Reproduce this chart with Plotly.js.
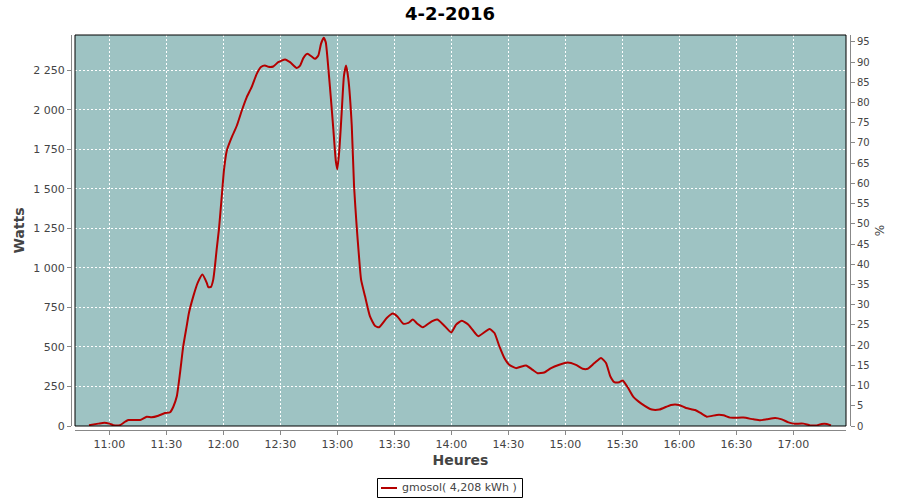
<!DOCTYPE html>
<html>
<head>
<meta charset="utf-8">
<script src="https://cdn.plot.ly/plotly-3.0.1.min.js"></script>
<style>html,body{margin:0;padding:0;background:#fff;}#chart{width:900px;height:500px;}</style>
</head>
<body>
<div id="chart"></div>
<script>
const day = '2016-02-04';
const times = [
 '10:49:18','10:54:12','10:57:24','11:00:00','11:02:06','11:05:36','11:08:18','11:10:00','11:16:12','11:19:42',
 '11:22:18','11:25:48','11:29:18','11:32:00','11:33:42','11:35:30','11:37:12','11:38:54','11:40:42','11:41:54',
 '11:44:12','11:46:30','11:49:00','11:51:18','11:52:06','11:53:30','11:54:42','11:55:36','11:56:30','11:57:42',
 '11:59:12','12:00:24','12:01:48','12:04:24','12:07:06','12:09:42','12:12:18','12:14:54','12:17:36','12:19:48',
 '12:21:54','12:23:42','12:26:18','12:28:54','12:32:30','12:35:06','12:38:36','12:40:24','12:42:06','12:44:12',
 '12:46:30','12:48:18','12:50:00','12:51:24','12:52:48','12:53:54','12:55:18','12:56:30','12:57:54','12:59:12',
 '13:00:00','13:01:06','13:02:18','13:03:30','13:04:36','13:05:48','13:07:36','13:08:48','13:10:12','13:11:24',
 '13:12:30','13:14:36','13:17:12','13:19:48','13:21:54','13:26:00','13:29:12','13:31:36','13:34:42','13:37:24',
 '13:39:42','13:42:06','13:45:00','13:49:42','13:52:36','13:55:48','14:00:00','14:02:30','14:05:30','14:09:00',
 '14:12:30','14:14:12','14:20:06','14:22:42','14:25:18','14:27:54','14:30:30','14:34:00','14:39:18','14:42:48',
 '14:45:24','14:48:54','14:52:30','14:56:48','15:01:12','15:05:36','15:09:06','15:11:48','15:15:18','15:18:48',
 '15:21:24','15:23:42','15:25:48','15:28:24','15:30:12','15:32:48','15:35:48','15:40:12','15:45:30','15:49:30',
 '15:55:36','15:59:48','16:03:30','16:08:18','16:10:54','16:14:24','16:19:42','16:23:12','16:26:42','16:33:42',
 '16:39:00','16:42:30','16:46:00','16:50:24','16:53:54','16:57:24','17:00:00','17:05:18','17:08:48','17:12:18',
 '17:14:54','17:17:36','17:19:48'
];
const watts = [
 5,15,21,15,5,5,27,38,38,59,
 55,65,82,87,122,186,334,503,630,715,
 820,905,958,905,878,880,926,1011,1117,1244,
 1455,1624,1740,1825,1899,1994,2079,2143,2227,2270,
 2280,2272,2274,2301,2318,2301,2265,2280,2327,2354,
 2337,2322,2343,2417,2456,2428,2259,2089,1878,1677,
 1624,1751,1984,2216,2280,2195,1899,1518,1260,1074,
 926,820,693,634,624,683,711,693,647,652,
 673,647,624,662,673,641,592,641,666,641,
 588,568,613,588,503,430,387,366,383,355,
 334,338,366,387,402,387,362,362,398,430,
 398,313,277,277,288,245,184,140,104,104,
 133,133,114,101,84,59,70,68,53,53,
 42,36,42,51,42,23,15,15,4,4,
 13,13,4
];
const seriesName = 'gmosol( 4,208 kWh )';
const chartTitle = '4-2-2016';
const xTitle = 'Heures';
const yTitle = 'Watts';
const y2Title = '%';

const x = times.map(t => day + ' ' + t);
const font = 'DejaVu Sans, Verdana, sans-serif';
const tickColor = '#444444';
const axisLine = '#888888';
const lineColor = '#B40000';

const W = 900, H = 500, ml = 71, mr = 50, mt = 35, mb = 70;
const pw = W - ml - mr, ph = H - mt - mb;
const xd = [4 / pw, (pw - 4) / pw];
const yd = [4 / ph, 1];
// pixel -> paper helpers (for the hand-drawn legend box only)
const px = v => (v - ml) / pw;
const py = v => (H - mb - v) / ph;

const traces = [
  {x: x, y: watts, type: 'scatter', mode: 'lines', name: seriesName,
   line: {color: lineColor, width: 2, shape: 'spline', smoothing: 0.5}, xaxis: 'x', yaxis: 'y'},
  {x: [], y: [], type: 'scatter', mode: 'lines', yaxis: 'y2', showlegend: false, hoverinfo: 'skip'}
];

const layout = {
  width: W, height: H,
  margin: {l: ml, r: mr, t: mt, b: mb, pad: 0},
  paper_bgcolor: '#ffffff',
  plot_bgcolor: '#9EC3C3',
  font: {family: font, size: 11, color: tickColor},
  title: {text: chartTitle, font: {family: font, size: 18, color: '#000000', weight: 'bold'},
          x: 0.5, xanchor: 'center', y: 1 - 14 / H, yanchor: 'middle'},
  showlegend: false,
  xaxis: {
    type: 'date', domain: xd, anchor: 'free', position: 0,
    range: [day + ' 10:41:57', day + ' 17:27:42'],
    tick0: day + ' 11:00:00', dtick: 30 * 60 * 1000, tickformat: '%H:%M',
    showline: true, linecolor: axisLine, linewidth: 1,
    ticks: 'outside', ticklen: 4, tickcolor: axisLine,
    showgrid: true, gridcolor: '#ffffff', griddash: '2px,2px', gridwidth: 1,
    zeroline: false,
    tickfont: {family: font, size: 11, color: tickColor},
    title: {text: xTitle, font: {family: font, size: 14, color: tickColor, weight: 'bold'}, standoff: 4}
  },
  yaxis: {
    domain: yd, anchor: 'free', position: 0,
    range: [0, 2473], tick0: 0, dtick: 250,
    tickformat: ',d',
    showline: true, linecolor: axisLine, linewidth: 1,
    ticks: 'outside', ticklen: 4, tickcolor: axisLine,
    showgrid: true, gridcolor: '#ffffff', griddash: '2px,2px', gridwidth: 1,
    zeroline: false,
    tickfont: {family: font, size: 11, color: tickColor},
    title: {text: yTitle, font: {family: font, size: 14, color: tickColor, weight: 'bold'}, standoff: 4}
  },
  yaxis2: {
    domain: yd, anchor: 'free', position: 1, overlaying: 'y', side: 'right',
    range: [0, 96.7], tick0: 0, dtick: 5,
    showline: true, linecolor: axisLine, linewidth: 1,
    ticks: 'outside', ticklen: 4, tickcolor: axisLine,
    showgrid: false, zeroline: false,
    tickfont: {family: font, size: 10, color: tickColor},
    title: {text: y2Title, font: {family: font, size: 12, color: tickColor}, standoff: 6}
  },
  separators: ', ',
  shapes: [
    {type: 'rect', xref: 'paper', yref: 'paper', x0: xd[0], x1: xd[1], y0: yd[0], y1: yd[1],
     line: {color: '#000000', width: 1}, fillcolor: 'rgba(0,0,0,0)', layer: 'above'},
    // legend box
    {type: 'rect', xref: 'paper', yref: 'paper', x0: px(377.5), x1: px(522.5), y0: py(497.5), y1: py(478.5),
     line: {color: '#000000', width: 1}, fillcolor: '#ffffff'},
    {type: 'line', xref: 'paper', yref: 'paper', x0: px(381), x1: px(397), y0: py(488), y1: py(488),
     line: {color: lineColor, width: 2}}
  ],
  annotations: [
    {xref: 'paper', yref: 'paper', x: px(400), y: py(488), xanchor: 'left', yanchor: 'middle',
     text: seriesName, showarrow: false, font: {family: font, size: 11, color: tickColor}}
  ]
};

Plotly.newPlot('chart', traces, layout, {displayModeBar: false, staticPlot: true});
</script>
</body>
</html>
